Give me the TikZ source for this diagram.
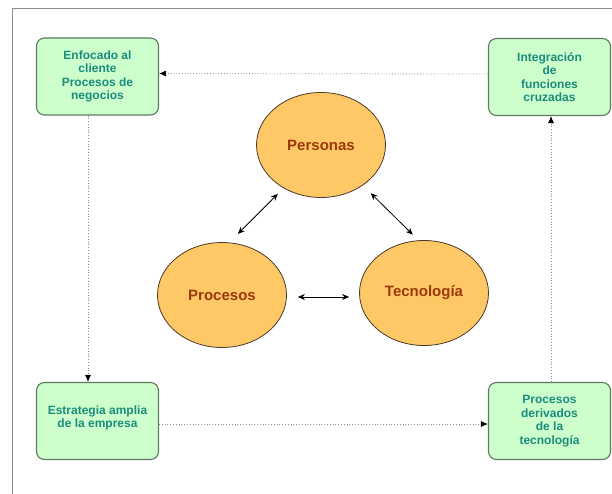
\documentclass[tikz,border=0pt]{standalone}
\usepackage{fontspec}
\setmainfont{Liberation Sans}
\usepackage{tikz}
\usetikzlibrary{arrows.meta}
\usetikzlibrary{positioning,shapes.geometric}
\usepackage{xcolor}
\definecolor{boxfill}{HTML}{CCFFCC}
\definecolor{boxline}{HTML}{5E7A60}
\definecolor{boxtext}{HTML}{1A8C7C}
\definecolor{ellfill}{HTML}{FFC866}
\definecolor{ellline}{HTML}{4A3A28}
\definecolor{elltext}{HTML}{9A3A0A}
\definecolor{flowgray}{HTML}{8C8C8C}
\tikzset{
    goal/.style={
        draw=boxline,
        fill=boxfill,
        rounded corners=8pt,
        line width=1.1pt,
        minimum width=122pt,
        minimum height=77pt,
        inner sep=2pt,
        align=center,
        text=boxtext,
        font=\bfseries\fontsize{12}{13.5}\selectfont
    },
    pillar/.style={
        ellipse,
        draw=ellline,
        fill=ellfill,
        line width=0.8pt,
        minimum width=129pt,
        minimum height=105pt,
        inner sep=0pt,
        text=elltext,
        font=\bfseries\fontsize{15}{17}\selectfont
    },
    flow/.style={
        draw=flowgray,
        dotted,
        line width=0.8pt,
        -{Latex[length=7pt, width=6pt, color=black]}
    },
    link/.style={
        draw,
        line width=0.8pt,
        {Stealth[length=7pt, width=6pt]}-{Stealth[length=7pt, width=6pt]}
    }
}

\begin{document}
\begin{tikzpicture}[x=1pt, y=-1pt]
  \useasboundingbox (0,0) rectangle (612,494);
  \draw[flowgray, line width=1pt] (12,494) |- (612,9);

  % the four corner boxes
  \node[goal] (tl) at (97.5,76.5) {Enfocado al\\cliente\\Procesos de\\negocios};
  \node[goal] (tr) at (549.5,77) {Integración\\de\\funciones\\cruzadas};
  \node[goal] (bl) at (97.5,421) {Estrategia amplia\\de la empresa\\[-4.5pt]};
  \node[goal] (br) at (549.5,421) {Procesos\\derivados\\de la\\tecnología};

  % the three pillars
  \node[pillar] (pers) at (321,145) {Personas\\[-8pt]};
  \node[pillar] (proc) at (222,295) {Procesos};
  \node[pillar] (tec) at (424,293) {Tecnología};

  \draw[flow] ([yshift=3pt]tr.west) -- ([yshift=3pt]tl.east);
  \draw[flow] ([xshift=-9.5pt]tl.south) -- ([xshift=-9.5pt]bl.north);
  \draw[flow] ([yshift=-3pt]bl.east) -- ([yshift=-3pt]br.west);
  \draw[flow] ([xshift=1.5pt]br.north) -- ([xshift=1.5pt]tr.south);

  \draw[link, shorten <=12pt, shorten >=8pt] (proc.82) -- (pers.229);
  \draw[link, shorten <=11pt, shorten >=8pt] (pers.316) -- (tec.96);
  \draw[link, shorten <=11pt, shorten >=10pt] ([yshift=-2pt]proc.east) -- ([yshift=-4pt]tec.west);
\end{tikzpicture}
\end{document}
